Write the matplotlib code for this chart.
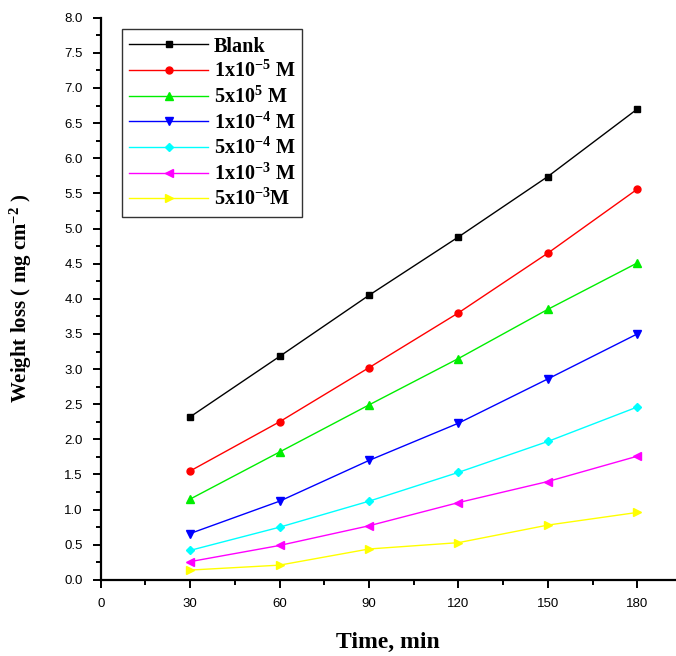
import matplotlib
matplotlib.use("Agg")
import matplotlib.pyplot as plt
from matplotlib.ticker import MultipleLocator

# time (min)
time = [30, 60, 90, 120, 150, 180]

# weight loss (mg cm^-2)
blank = [2.32, 3.18, 4.05, 4.88, 5.74, 6.70]
c_1e5 = [1.55, 2.25, 3.02, 3.80, 4.65, 5.56]
c_5e5 = [1.15, 1.82, 2.49, 3.15, 3.85, 4.51]
c_1e4 = [0.66, 1.12, 1.70, 2.23, 2.86, 3.50]
c_5e4 = [0.42, 0.75, 1.12, 1.53, 1.97, 2.46]
c_1e3 = [0.26, 0.49, 0.77, 1.10, 1.40, 1.76]
c_5e3 = [0.14, 0.21, 0.44, 0.53, 0.78, 0.96]

labels = [
    "Blank",
    "1x10$^{-5}$ M",
    "5x10$^{5}$ M",
    "1x10$^{-4}$ M",
    "5x10$^{-4}$ M",
    "1x10$^{-3}$ M",
    "5x10$^{-3}$M",
]
series = [blank, c_1e5, c_5e5, c_1e4, c_5e4, c_1e3, c_5e3]
colors = ["black", "red", "#00ee00", "blue", "cyan", "magenta", "yellow"]
markers = ["s", "o", "^", "v", "D", "<", ">"]
sizes = [4.5, 5, 5.5, 5.5, 4.2, 5.5, 5.5]

plt.rcParams["mathtext.fontset"] = "custom"
plt.rcParams["mathtext.rm"] = "Liberation Serif:bold"
plt.rcParams["mathtext.it"] = "Liberation Serif:bold"
plt.rcParams["mathtext.bf"] = "Liberation Serif:bold"

fig = plt.figure(figsize=(6.76, 6.56), dpi=100)
ax = fig.add_axes([0.149, 0.116, 0.851, 0.857])

for y, lab, c, m, s in zip(series, labels, colors, markers, sizes):
    ax.plot(time, y, color=c, marker=m, markersize=s, linewidth=1,
            markeredgecolor=c, label=lab)

ax.set_xlim(0, 193)
ax.set_ylim(0, 8.0)
ax.xaxis.set_major_locator(MultipleLocator(30))
ax.xaxis.set_minor_locator(MultipleLocator(15))
ax.yaxis.set_major_locator(MultipleLocator(0.5))
ax.yaxis.set_minor_locator(MultipleLocator(0.25))
ax.yaxis.set_major_formatter(plt.FormatStrFormatter("%.1f"))

ax.spines["top"].set_visible(False)
ax.spines["right"].set_visible(False)
ax.spines["left"].set_linewidth(1.6)
ax.spines["bottom"].set_linewidth(1.6)
ax.tick_params(which="major", direction="out", length=6, width=1.4,
               labelsize=9.5, pad=7)
ax.tick_params(which="minor", direction="out", length=3.5, width=1.4)
for t in ax.get_xticklabels() + ax.get_yticklabels():
    t.set_family("Liberation Sans")

ax.set_xlabel("Time, min", family="Liberation Serif", fontweight="bold",
              fontsize=17, labelpad=16)
ax.set_ylabel("Weight loss ( mg cm$^{-2}$ )", family="Liberation Serif",
              fontweight="bold", fontsize=15, labelpad=22)

leg = ax.legend(loc="upper left", bbox_to_anchor=(0.02, 0.997),
                prop={"family": "Liberation Serif", "weight": "bold", "size": 14.5},
                frameon=True, fancybox=False, edgecolor="black",
                handlelength=3.9, numpoints=1, labelspacing=0.22,
                borderpad=0.35, handletextpad=0.3)
leg.get_frame().set_linewidth(1.0)

fig.savefig("out.png", dpi=100)
